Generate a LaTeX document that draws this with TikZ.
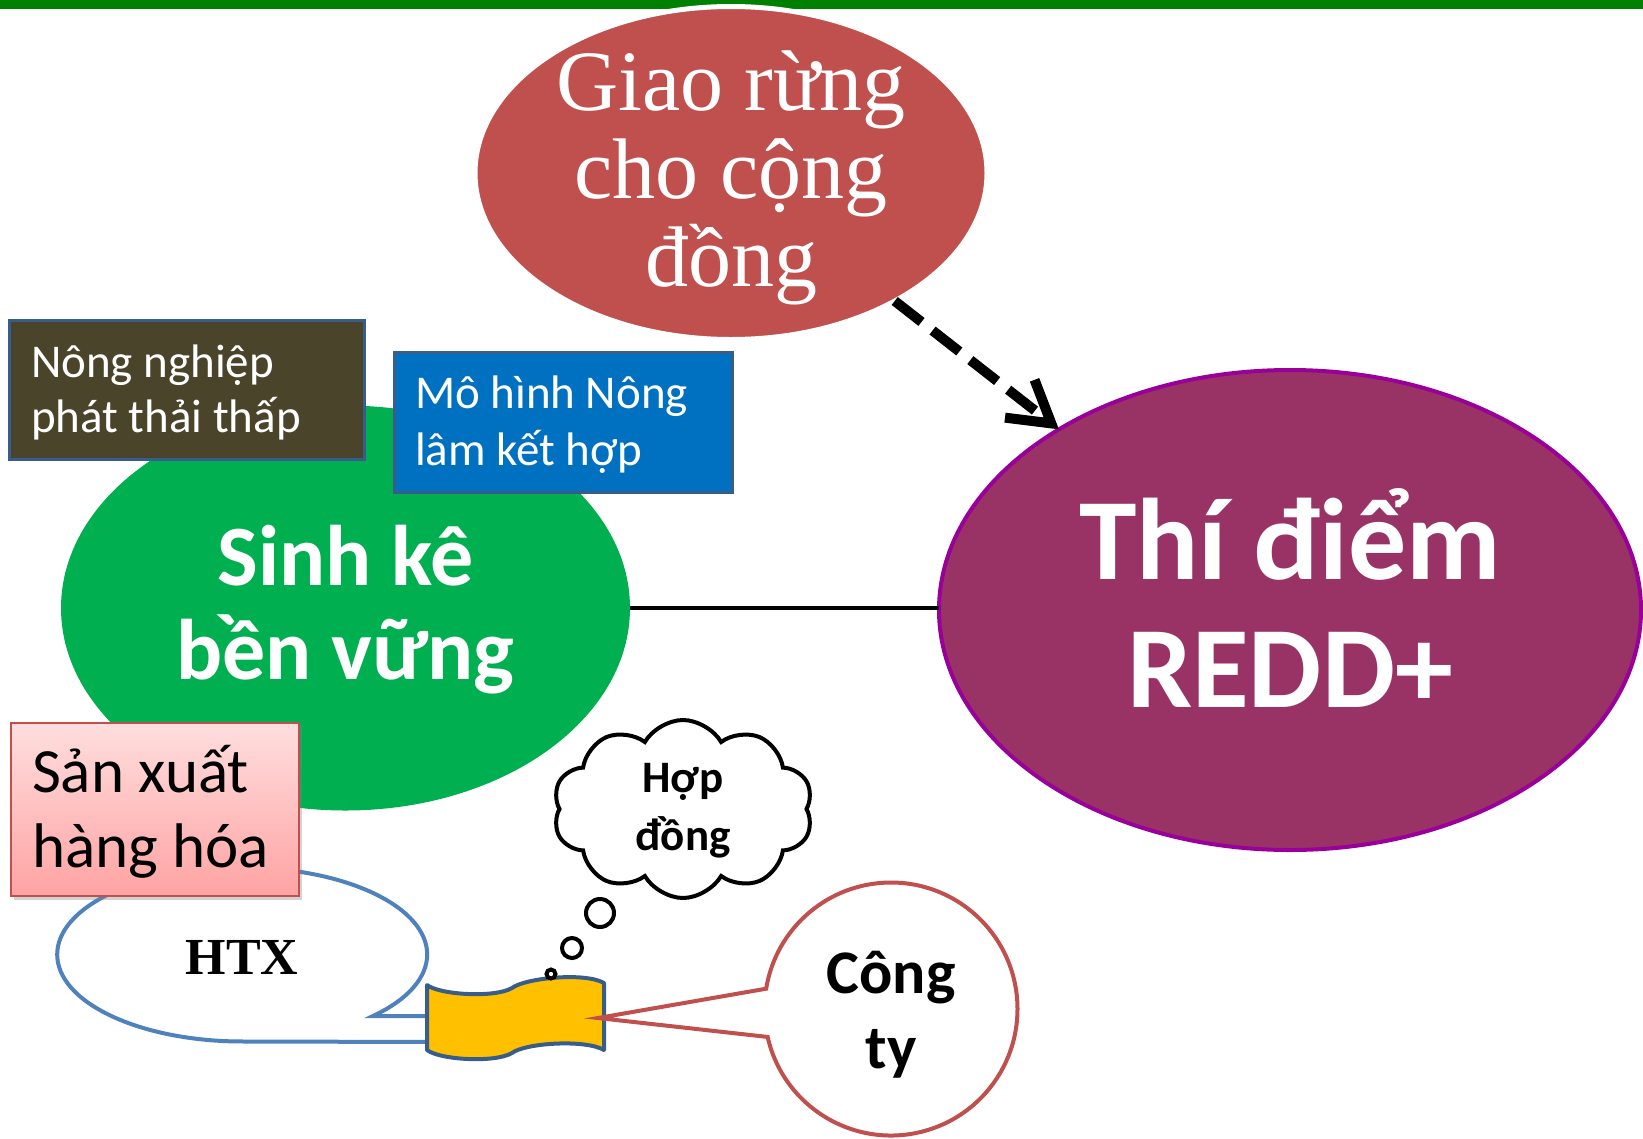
\documentclass[tikz,border=0pt]{standalone}
\usepackage{fontspec}
\setmainfont{Carlito}
\newfontfamily\timesvn{Liberation Serif}
\usetikzlibrary{shapes.geometric,shapes.symbols,shapes.callouts,shadows,arrows.meta}

\definecolor{barGreen}{HTML}{008000}
\definecolor{giaoRed}{HTML}{C0504D}
\definecolor{sinhGreen}{HTML}{00B050}
\definecolor{reddPurple}{HTML}{993366}
\definecolor{reddBorder}{HTML}{990099}
\definecolor{brownBox}{HTML}{4A452A}
\definecolor{blueBox}{HTML}{0070C0}
\definecolor{boxBorder}{HTML}{385D8A}
\definecolor{pinkTop}{HTML}{FFDEDE}
\definecolor{pinkBottom}{HTML}{FFA3A3}
\definecolor{htxBlue}{HTML}{4F81BD}
\definecolor{scrollGold}{HTML}{FFC000}

\begin{document}
\begin{tikzpicture}[x=1pt,y=-1pt]
        % Define styles
        \tikzset{
            bubble/.style={ellipse, inner sep=0pt, outer sep=0pt, align=flush center, text=white},
            box/.style={rectangle, draw=boxBorder, line width=3pt, inner ysep=0pt, outer sep=0pt, text=white, align=flush left},
            thought/.style={circle, draw, line width=4pt, fill=white, inner sep=0pt, outer sep=0pt},
            arrow/.style={-{Straight Barb[length=40pt,width=48pt]}, line width=10pt, dash pattern=on 34pt off 14pt},
            link/.style={line width=3.5pt}
        }
        \useasboundingbox (0,0) rectangle (1643,1138);
        \fill[barGreen] (0,0) rectangle (1643,9);

        % Nodes
        \node[bubble, fill=sinhGreen, minimum width=569pt, minimum height=405pt, text width=360pt, text height=60pt, text depth=106pt, font=\bfseries\fontsize{86}{94}\selectfont] (sinhke) at (345.5,608) {Sinh kê\\bền vững};
        \node[bubble, fill=reddPurple, draw=reddBorder, line width=4pt, minimum width=702pt, minimum height=480pt, text width=460pt, text height=80pt, text depth=142pt, font=\bfseries\fontsize{116}{128}\selectfont] (redd) at (1290,610) {Thí điểm\\REDD+};
        \node[bubble, fill=giaoRed, draw=white, line width=5pt, minimum width=512pt, minimum height=333pt, text width=360pt, text height=50pt, text depth=176pt, font=\timesvn\fontsize{86}{88}\selectfont] (giao) at (731,173) {Giao rừng\\cho cộng\\đồng};

        \node[box, fill=brownBox, minimum height=139pt, text width=311pt, inner xsep=22pt, text height=30pt, text depth=55pt, font=\fontsize{47}{55}\selectfont] (nongnghiep) at (186.5,389.5) {Nông nghiệp\\phát thải thấp};
        \node[box, fill=blueBox, minimum height=140pt, text width=296pt, inner xsep=21pt, text height=30pt, text depth=58pt, font=\fontsize{47}{57}\selectfont] (nonglam) at (563,422) {Mô hình Nông\\lâm kết hợp};

        % HTX callout
        \draw[htxBlue, line width=4pt, fill=white] (373,1016) arc[start angle=45, end angle=-270, x radius=185, y radius=87] -- (440,1042) -- (440,1016) -- cycle;
        \node[font=\timesvn\bfseries\fontsize{52}{60}\selectfont] (htx) at (242,957) {HTX};
        \node[box, draw=giaoRed, line width=2pt, top color=pinkTop, bottom color=pinkBottom, text=black, drop shadow={shadow xshift=3pt, shadow yshift=-4pt, opacity=0.35}, minimum height=173pt, text width=246pt, inner xsep=21pt, text height=40pt, text depth=75pt, font=\fontsize{63}{75}\selectfont] (sanxuat) at (155,809.5) {Sản xuất\\hàng hóa};

        % scroll
        \draw[boxBorder, line width=4pt, fill=scrollGold, line join=round] (427,985) .. controls (440,995) and (495,998) .. (512,988) .. controls (525,978) and (585,972) .. (604,983) -- (604,1050) .. controls (585,1039) and (525,1043) .. (512,1053) .. controls (495,1063) and (440,1060) .. (427,1050) -- cycle;
        \coordinate (scrtip) at (598,1018);

        \node[ellipse callout, callout absolute pointer={(scrtip)}, callout pointer arc=22, draw=giaoRed, line width=4pt, fill=white, minimum width=253pt, minimum height=253pt, inner sep=0pt, outer sep=0pt, align=flush center, text width=150pt, text height=40pt, text depth=72pt, font=\bfseries\fontsize{62}{75}\selectfont] (congty) at (891,1009) {Công\\ty};

        \node[cloud, draw, line width=4pt, cloud puffs=10, cloud puff arc=120, aspect=1.45, minimum width=260pt, minimum height=178pt, inner sep=0pt, align=flush center, text width=110pt, text height=30pt, text depth=64pt, font=\bfseries\fontsize{45}{58}\selectfont] (hopdong) at (683,809) {Hợp\\đồng};
        \node[thought, minimum size=28pt] (nghi1) at (600,913) {};
        \node[thought, minimum size=20pt] (nghi2) at (572,948) {};
        \node[thought, minimum size=9pt] (nghi3) at (551,974) {};

        % Arrows
        \draw[link] (sinhke.east) -- (sinhke.east -| redd.west);
        \draw[arrow] (giao) -- (redd);
\end{tikzpicture}
\end{document}
